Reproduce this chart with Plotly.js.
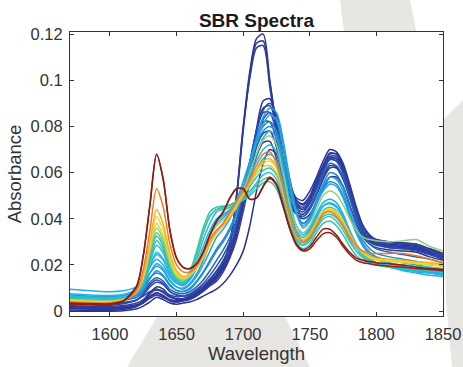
<!DOCTYPE html>
<html><head><meta charset="utf-8">
<script src="https://cdn.plot.ly/plotly-3.0.1.min.js"></script>
<style>
html,body{margin:0;padding:0;background:#fff;}
#wrap{position:relative;width:463px;height:367px;}
#bg{position:absolute;left:0;top:0;}
#chart{position:absolute;left:0;top:0;width:463px;height:367px;}
</style></head>
<body>
<div id="wrap">
<svg id="bg" width="463" height="367">
  <polygon points="340,0 410,0 418,40 345,40" fill="#e7e6e2"/>
  <polygon points="443,120 463,100 463,367 452,367 446,300 444,200" fill="#e7e6e2"/>
  <polygon points="127,367 157,317 285,317 310,367" fill="#e7e6e2"/>
</svg>
<div id="chart"></div>
</div>
<script>
const wavelength = [1570,1580,1590,1600,1610,1620,1625,1630,1635,1640,1645,1650,1655,1660,1665,1670,1675,1680,1685,1690,1695,1700,1705,1710,1715,1720,1725,1730,1735,1740,1745,1750,1755,1760,1765,1770,1775,1780,1785,1790,1795,1800,1810,1820,1830,1840,1850];

const sTallA = [0.0015,0.0012,0.001,0.001,0.0013,0.0022,0.0035,0.006,0.008,0.0065,0.0045,0.004,0.0045,0.0055,0.007,0.009,0.012,0.015,0.02,0.029,0.05,0.08,0.104,0.118,0.12,0.1,0.08,0.064,0.053,0.047,0.045,0.048,0.055,0.062,0.067,0.067,0.061,0.051,0.041,0.034,0.031,0.03,0.029,0.0285,0.028,0.026,0.024];
const sTallB = [0.002,0.0018,0.0016,0.0016,0.0019,0.0028,0.004,0.0065,0.007,0.006,0.0048,0.0045,0.005,0.006,0.0075,0.0095,0.0125,0.0155,0.0205,0.029,0.049,0.078,0.102,0.116,0.117,0.099,0.08,0.065,0.054,0.048,0.046,0.049,0.056,0.063,0.068,0.068,0.062,0.052,0.042,0.035,0.032,0.031,0.03,0.0295,0.029,0.027,0.025];
const sTallC = [0.0025,0.0022,0.002,0.002,0.0024,0.0035,0.005,0.008,0.0095,0.008,0.006,0.0055,0.0055,0.0065,0.008,0.01,0.013,0.016,0.021,0.03,0.05,0.079,0.101,0.114,0.115,0.097,0.078,0.063,0.052,0.046,0.044,0.047,0.054,0.061,0.066,0.066,0.06,0.05,0.04,0.0335,0.0305,0.0295,0.0285,0.028,0.0275,0.0255,0.0235];
const sNavy1 = [0.0005,0.0004,0.0003,0.0003,0.0007,0.002,0.004,0.008,0.0105,0.0095,0.0065,0.005,0.0045,0.005,0.0065,0.0085,0.011,0.014,0.018,0.024,0.033,0.046,0.062,0.079,0.091,0.092,0.082,0.066,0.055,0.049,0.048,0.052,0.058,0.065,0.07,0.069,0.064,0.055,0.045,0.037,0.033,0.031,0.03,0.0295,0.029,0.027,0.025];
const sNavy2 = [0.001,0.0009,0.0008,0.0008,0.0012,0.0024,0.0045,0.0075,0.0095,0.0085,0.0065,0.0052,0.005,0.0055,0.007,0.009,0.012,0.015,0.019,0.025,0.034,0.047,0.063,0.078,0.088,0.089,0.08,0.065,0.054,0.048,0.0465,0.05,0.057,0.063,0.0685,0.068,0.063,0.054,0.044,0.0365,0.0325,0.0305,0.0295,0.029,0.0285,0.0265,0.0245];
const sNavy3 = [0.003,0.0028,0.0026,0.0026,0.0032,0.0048,0.0075,0.0115,0.0135,0.012,0.0085,0.007,0.0065,0.007,0.0085,0.0105,0.0135,0.017,0.021,0.027,0.036,0.049,0.064,0.078,0.086,0.086,0.077,0.062,0.051,0.0455,0.044,0.0475,0.054,0.061,0.0665,0.066,0.061,0.052,0.0425,0.035,0.0315,0.0295,0.0285,0.028,0.0275,0.0255,0.0235];
const sNavy4 = [0.004,0.0037,0.0034,0.0033,0.0037,0.0048,0.0065,0.0085,0.009,0.0085,0.007,0.0062,0.0065,0.0075,0.009,0.011,0.014,0.0175,0.022,0.028,0.037,0.05,0.064,0.076,0.082,0.082,0.074,0.06,0.05,0.0445,0.043,0.0465,0.053,0.06,0.0655,0.065,0.06,0.051,0.042,0.035,0.0315,0.03,0.0295,0.029,0.029,0.0265,0.024];
const sNavy5 = [0.002,0.0018,0.0016,0.0016,0.0018,0.0026,0.0038,0.0055,0.007,0.006,0.0045,0.004,0.0045,0.0055,0.007,0.009,0.011,0.013,0.017,0.023,0.031,0.043,0.056,0.067,0.073,0.0735,0.066,0.055,0.046,0.042,0.041,0.044,0.05,0.057,0.062,0.062,0.057,0.049,0.04,0.0335,0.03,0.0285,0.0275,0.027,0.0265,0.0245,0.0225];
const sNavy6 = [0,0,0,0,0.0002,0.001,0.0022,0.004,0.006,0.005,0.0035,0.003,0.0035,0.004,0.005,0.0065,0.008,0.0095,0.012,0.0155,0.02,0.026,0.037,0.052,0.064,0.07,0.068,0.057,0.047,0.042,0.04,0.042,0.047,0.053,0.058,0.058,0.054,0.046,0.038,0.032,0.029,0.0275,0.0265,0.026,0.0255,0.0235,0.022];
const sNavy7 = [0.0015,0.0013,0.0011,0.0011,0.0014,0.0024,0.0038,0.0065,0.008,0.0068,0.005,0.0045,0.005,0.006,0.0075,0.0095,0.012,0.015,0.019,0.0255,0.034,0.046,0.059,0.071,0.077,0.078,0.071,0.058,0.048,0.043,0.042,0.045,0.051,0.058,0.063,0.0625,0.058,0.05,0.041,0.034,0.0305,0.029,0.028,0.0275,0.027,0.025,0.023];
const sBlue3 = [0.0035,0.0033,0.0031,0.003,0.0035,0.0048,0.007,0.0105,0.0125,0.0115,0.0085,0.007,0.0065,0.0075,0.0095,0.012,0.0155,0.0195,0.024,0.03,0.039,0.051,0.065,0.078,0.087,0.09,0.085,0.071,0.057,0.047,0.044,0.047,0.054,0.061,0.066,0.065,0.06,0.051,0.042,0.035,0.031,0.029,0.0275,0.027,0.026,0.0245,0.023];
const sBlue1 = [0.005,0.0047,0.0044,0.0043,0.0048,0.006,0.0085,0.0125,0.0145,0.013,0.0095,0.008,0.0075,0.0085,0.0105,0.0135,0.0175,0.022,0.0265,0.032,0.04,0.051,0.063,0.075,0.083,0.086,0.082,0.07,0.056,0.045,0.041,0.044,0.051,0.059,0.064,0.063,0.058,0.049,0.04,0.033,0.029,0.027,0.0255,0.0245,0.0235,0.0225,0.021];
const sBlue2 = [0.006,0.0057,0.0054,0.0053,0.0058,0.0075,0.01,0.0145,0.0165,0.015,0.011,0.009,0.0085,0.01,0.013,0.017,0.022,0.027,0.031,0.036,0.043,0.053,0.064,0.074,0.08,0.082,0.078,0.066,0.052,0.042,0.038,0.041,0.048,0.055,0.06,0.059,0.054,0.045,0.037,0.0305,0.027,0.025,0.0235,0.0225,0.0215,0.0205,0.0195];
const sAzure = [0.0055,0.0052,0.005,0.0049,0.0054,0.0068,0.009,0.014,0.0175,0.0155,0.0115,0.009,0.0085,0.0095,0.0125,0.0165,0.021,0.026,0.03,0.035,0.042,0.052,0.062,0.072,0.078,0.08,0.077,0.066,0.052,0.042,0.038,0.041,0.047,0.053,0.056,0.055,0.05,0.042,0.035,0.029,0.0255,0.0235,0.022,0.021,0.02,0.019,0.018];
const sCyan1 = [0.007,0.0067,0.0064,0.0063,0.0068,0.0085,0.011,0.0165,0.0195,0.0175,0.013,0.0105,0.01,0.012,0.016,0.022,0.029,0.035,0.038,0.042,0.048,0.056,0.065,0.075,0.084,0.088,0.086,0.074,0.057,0.043,0.037,0.04,0.047,0.054,0.058,0.057,0.052,0.043,0.035,0.029,0.0255,0.023,0.021,0.0195,0.018,0.017,0.016];
const sCyan5 = [0.006,0.0058,0.0056,0.0055,0.006,0.0075,0.0105,0.0165,0.0205,0.0185,0.0135,0.0105,0.0095,0.0115,0.015,0.02,0.026,0.032,0.0355,0.04,0.046,0.054,0.063,0.073,0.081,0.085,0.083,0.071,0.055,0.042,0.036,0.039,0.046,0.052,0.055,0.054,0.049,0.041,0.0335,0.028,0.0245,0.0225,0.0205,0.019,0.0175,0.0165,0.0155];
const sCyan2 = [0.0095,0.009,0.0086,0.0084,0.0088,0.0105,0.0135,0.019,0.0225,0.02,0.015,0.012,0.011,0.0135,0.0185,0.026,0.033,0.038,0.0405,0.043,0.047,0.053,0.06,0.068,0.075,0.078,0.075,0.063,0.048,0.037,0.033,0.036,0.042,0.047,0.0485,0.047,0.042,0.035,0.029,0.025,0.0225,0.0205,0.019,0.0175,0.0165,0.0155,0.015];
const sCyan6 = [0.0075,0.0072,0.0069,0.0068,0.0072,0.0095,0.0125,0.0195,0.0245,0.022,0.016,0.0125,0.0115,0.014,0.019,0.026,0.033,0.039,0.0415,0.0435,0.046,0.05,0.055,0.061,0.066,0.068,0.065,0.055,0.043,0.034,0.031,0.034,0.04,0.0455,0.047,0.0455,0.041,0.0345,0.029,0.025,0.0225,0.021,0.0195,0.0185,0.0175,0.017,0.0165];
const sCyan3 = [0.0065,0.0062,0.006,0.0059,0.0064,0.0085,0.0115,0.0195,0.0255,0.0225,0.016,0.0125,0.0115,0.0145,0.02,0.028,0.035,0.04,0.042,0.044,0.047,0.052,0.058,0.065,0.07,0.072,0.069,0.058,0.045,0.035,0.032,0.035,0.041,0.0455,0.0465,0.045,0.0405,0.034,0.0285,0.0245,0.022,0.0205,0.019,0.018,0.017,0.0165,0.016];
const sCyan4 = [0.006,0.0058,0.0056,0.0055,0.006,0.0085,0.012,0.021,0.0285,0.025,0.017,0.013,0.012,0.0155,0.022,0.031,0.038,0.043,0.044,0.045,0.047,0.05,0.054,0.058,0.061,0.062,0.059,0.05,0.039,0.0315,0.0295,0.032,0.038,0.0435,0.045,0.0435,0.039,0.033,0.0275,0.024,0.022,0.0205,0.0195,0.0185,0.018,0.0175,0.017];
const sTeal3 = [0.0058,0.0056,0.0054,0.0053,0.0058,0.008,0.012,0.022,0.0305,0.0265,0.018,0.0135,0.012,0.016,0.024,0.034,0.041,0.044,0.045,0.046,0.0475,0.0495,0.052,0.0555,0.059,0.06,0.057,0.048,0.0375,0.0305,0.0285,0.031,0.0365,0.041,0.042,0.0405,0.0365,0.031,0.026,0.023,0.021,0.02,0.019,0.0185,0.018,0.0175,0.017];
const sTeal1 = [0.0055,0.0053,0.0051,0.005,0.0056,0.008,0.0125,0.023,0.0325,0.028,0.019,0.014,0.0125,0.017,0.026,0.036,0.043,0.045,0.0455,0.046,0.047,0.048,0.05,0.053,0.0555,0.056,0.053,0.045,0.036,0.0295,0.027,0.029,0.034,0.038,0.039,0.037,0.033,0.028,0.024,0.022,0.021,0.02,0.0195,0.019,0.0185,0.018,0.0175];
const sTeal2 = [0.005,0.0048,0.0046,0.0045,0.0052,0.008,0.013,0.024,0.034,0.0295,0.02,0.0145,0.013,0.0165,0.0245,0.034,0.0415,0.044,0.0445,0.045,0.0465,0.0485,0.051,0.0545,0.057,0.058,0.055,0.047,0.038,0.031,0.0285,0.0305,0.0355,0.04,0.041,0.039,0.035,0.03,0.026,0.0235,0.022,0.021,0.0205,0.02,0.0195,0.019,0.0185];
const sGreen = [0.005,0.0048,0.0046,0.0045,0.0052,0.0085,0.014,0.026,0.036,0.031,0.021,0.015,0.0135,0.0155,0.02,0.026,0.032,0.037,0.0395,0.042,0.046,0.052,0.06,0.068,0.074,0.076,0.072,0.06,0.046,0.037,0.034,0.037,0.044,0.05,0.052,0.0505,0.046,0.04,0.035,0.032,0.031,0.0305,0.03,0.0305,0.031,0.028,0.026];
const sLime = [0.0045,0.0043,0.0041,0.004,0.0048,0.0085,0.0145,0.027,0.038,0.0325,0.022,0.0155,0.014,0.0155,0.019,0.024,0.03,0.035,0.038,0.041,0.045,0.05,0.055,0.0595,0.0625,0.063,0.06,0.051,0.04,0.0325,0.03,0.0325,0.038,0.0425,0.044,0.0425,0.0385,0.033,0.028,0.025,0.023,0.022,0.0215,0.021,0.0205,0.02,0.0195];
const sYellow = [0.0045,0.0043,0.0041,0.004,0.0048,0.0085,0.015,0.0285,0.041,0.035,0.0235,0.0165,0.0145,0.0155,0.0185,0.023,0.029,0.034,0.0375,0.041,0.0455,0.051,0.0565,0.061,0.064,0.065,0.062,0.052,0.041,0.033,0.031,0.0335,0.039,0.043,0.0445,0.043,0.039,0.0335,0.0285,0.0255,0.0235,0.0225,0.022,0.0215,0.021,0.0205,0.02];
const sGold = [0.004,0.0038,0.0036,0.0036,0.0045,0.0085,0.016,0.03,0.044,0.0375,0.025,0.0175,0.015,0.016,0.019,0.0235,0.0295,0.034,0.037,0.0405,0.045,0.0505,0.056,0.061,0.065,0.066,0.0625,0.0525,0.041,0.033,0.0305,0.033,0.0385,0.0425,0.0435,0.042,0.038,0.033,0.0285,0.0255,0.024,0.023,0.0225,0.022,0.0215,0.021,0.0205];
const sOrange = [0.004,0.0038,0.0036,0.0036,0.0045,0.009,0.018,0.035,0.053,0.045,0.029,0.02,0.017,0.017,0.0195,0.025,0.031,0.035,0.038,0.043,0.048,0.052,0.057,0.063,0.068,0.069,0.064,0.053,0.041,0.033,0.03,0.032,0.037,0.042,0.043,0.041,0.037,0.032,0.028,0.026,0.025,0.025,0.025,0.025,0.024,0.0225,0.021];
const sRed2 = [0.003,0.0029,0.0028,0.0028,0.0042,0.0105,0.024,0.046,0.068,0.057,0.035,0.023,0.019,0.0185,0.0205,0.0255,0.033,0.039,0.043,0.049,0.053,0.053,0.0485,0.049,0.054,0.0575,0.0545,0.0455,0.0355,0.0285,0.026,0.027,0.0305,0.0335,0.034,0.032,0.028,0.0245,0.022,0.021,0.0205,0.02,0.0195,0.019,0.0185,0.018,0.0175];
const sRed1 = [0.0035,0.0033,0.0032,0.0032,0.0045,0.011,0.024,0.046,0.068,0.057,0.035,0.023,0.019,0.0185,0.0205,0.0255,0.033,0.039,0.043,0.049,0.053,0.053,0.0485,0.049,0.054,0.058,0.055,0.046,0.036,0.029,0.0265,0.028,0.032,0.0355,0.0355,0.033,0.029,0.0255,0.023,0.022,0.0215,0.021,0.0205,0.02,0.019,0.0185,0.018];

const seriesList = [sTallA,sTallB,sTallC,sNavy1,sNavy2,sNavy3,sNavy4,sNavy5,sNavy6,sNavy7,sBlue3,sBlue1,sBlue2,sAzure,sCyan1,sCyan5,sCyan2,sCyan6,sCyan3,sCyan4,sTeal3,sTeal1,sTeal2,sGreen,sLime,sYellow,sGold,sOrange,sRed2,sRed1];
const seriesColors = ['#2b3494','#2c3698','#2e3a9e','#2b3595','#2d3a9c','#2f40a2','#2e46a8','#3b3896','#2a3290','#2c3798','#2450ad','#2a62b8','#1f86cf','#1a90d6','#1c9ddd','#25a5e2','#22aee6','#20b2e3','#1fb7e0','#2dbdd5','#2fbfc4','#36c0b2','#4ec39e','#96ce78','#c9d83c','#f3dc21','#f6ae2b','#ef7a22','#982014','#8e1b13'];

const traces = seriesList.map((ys, i) => ({
  x: wavelength, y: ys, type: 'scatter', mode: 'lines',
  line: {color: seriesColors[i], width: 1.5, shape: 'spline', smoothing: 0.8},
  showlegend: false, hoverinfo: 'skip'
}));

const font = 'Liberation Sans, Arial, Helvetica, sans-serif';
const layout = {
  width: 463, height: 367,
  margin: {l: 70, r: 20, t: 32, b: 51},
  paper_bgcolor: 'rgba(0,0,0,0)', plot_bgcolor: '#ffffff',
  title: {text: 'SBR Spectra', font: {family: font, size: 19, color: '#1a1a1a', weight: 'bold'},
          x: 0.5, xref: 'paper', xanchor: 'center', y: 0.945, yref: 'container', yanchor: 'middle'},
  xaxis: {range: [1570, 1850], tickvals: [1600,1650,1700,1750,1800,1850],
          ticks: 'inside', ticklen: 4, tickcolor: '#333', mirror: 'allticks', showline: true,
          linecolor: '#333', linewidth: 1, showgrid: false, zeroline: false, ticklabelstandoff: 3,
          tickfont: {family: font, size: 16.5, color: '#333'},
          title: {text: 'Wavelength', font: {family: font, size: 18.5, color: '#333'}, standoff: 4}},
  yaxis: {range: [-0.0021, 0.1209], tickvals: [0,0.02,0.04,0.06,0.08,0.1,0.12],
          ticktext: ['0','0.02','0.04','0.06','0.08','0.1','0.12'],
          ticks: 'inside', ticklen: 4, tickcolor: '#333', mirror: 'allticks', showline: true,
          linecolor: '#333', linewidth: 1, showgrid: false, zeroline: false, ticklabelstandoff: 3,
          tickfont: {family: font, size: 16.5, color: '#333'},
          title: {text: 'Absorbance', font: {family: font, size: 18.5, color: '#333'}, standoff: 4}}
};
Plotly.newPlot('chart', traces, layout, {staticPlot: true, displayModeBar: false});
</script>
</body></html>
